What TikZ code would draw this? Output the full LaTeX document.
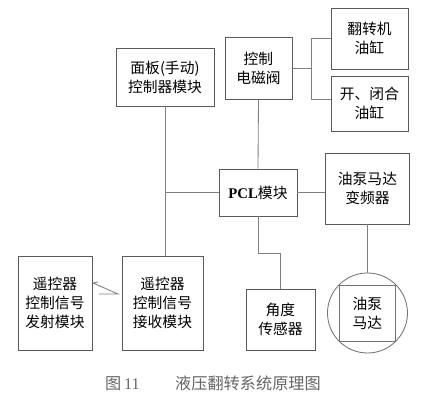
\documentclass[tikz,border=0pt]{standalone}
\usepackage{fontspec}
\setmainfont{Liberation Serif}
\newfontfamily\cjk{Noto Sans CJK SC}
\usetikzlibrary{positioning}

\begin{document}
\begin{tikzpicture}[
x=0.025cm, y=-0.025cm,
box/.style={draw=black!65, line width=0.6pt, align=center, inner sep=1pt, font=\cjk\fontsize{10.5}{13.5}\selectfont, text=black},
wire/.style={draw=black!50, line width=0.6pt}
]
\useasboundingbox[fill=white] (0,0) rectangle (424,402);
% upper part
\node[box, minimum width=98*0.025cm, minimum height=58*0.025cm] (panel) at (165,77) {面板(手动)\\控制器模块};
\node[box, minimum width=67*0.025cm, minimum height=62*0.025cm] (valve) at (258.5,68) {控制\\电磁阀};
\node[box, minimum width=77*0.025cm, minimum height=61*0.025cm] (flip) at (369.5,38.5) {翻转机\\油缸};
\node[box, minimum width=77*0.025cm, minimum height=55*0.025cm] (openclose) at (369.5,103.5) {开、闭合\\油缸};
% middle
\node[box, minimum width=78*0.025cm, minimum height=47*0.025cm] (pcl) at (258,192.5) {{\rmfamily\bfseries PCL}模块};
\node[box, minimum width=84*0.025cm, minimum height=71*0.025cm] (vfd) at (367.5,188.5) {油泵马达\\变频器};
% lower part
\node[box, minimum width=74*0.025cm, minimum height=94*0.025cm] (trans) at (55,303) {遥控器\\控制信号\\发射模块};
\node[box, minimum width=81*0.025cm, minimum height=94*0.025cm] (recv) at (162.5,303) {遥控器\\控制信号\\接收模块};
\node[box, minimum width=69*0.025cm, minimum height=61*0.025cm] (sensor) at (280.5,319.5) {角度\\传感器};
\node[draw=black!55, line width=0.6pt, circle, minimum size=80*0.025cm, inner sep=0pt] (pumpc) at (367.5,313) {};
\node[box, draw=black!55, minimum width=56*0.025cm, minimum height=56*0.025cm] (pump) at (pumpc) {油泵\\马达};
\node[font=\cjk\fontsize{11.5}{14}\selectfont, text=black!60] (cap) at (213,383) {图\,{\rmfamily 11}\hspace{2.2em}液压翻转系统原理图};
% connectors
\coordinate (fork) at (311,68);
\coordinate (ocin) at (openclose.west |- 0,99);
\draw[wire] (valve.east) -- (fork);
\draw[wire] (fork |- flip.west) -- (fork |- ocin);
\draw[wire] (fork |- flip.west) -- (flip.west);
\draw[wire] (fork |- ocin) -- (ocin);
\draw[wire] (valve.south) -- (pcl.north);
\draw[wire] (panel.south) -- (panel.south |- recv.north);
\draw[wire] (panel.south |- pcl.west) -- (pcl.west);
\draw[wire] (pcl.east) -- (pcl.east -| vfd.west);
\draw[wire] (vfd.south) -- (pumpc.north);
\draw[wire] (pcl.south) -- (258,253) -| (sensor.north);
% wireless link
\coordinate (w1) at (98,282);
\coordinate (w2) at (93,283);
\coordinate (w3) at (118,294);
\coordinate (w4) at (99,294);
\draw[wire] (w1) -- (w2) -- (w3) -- (w4);
\end{tikzpicture}
\end{document}
